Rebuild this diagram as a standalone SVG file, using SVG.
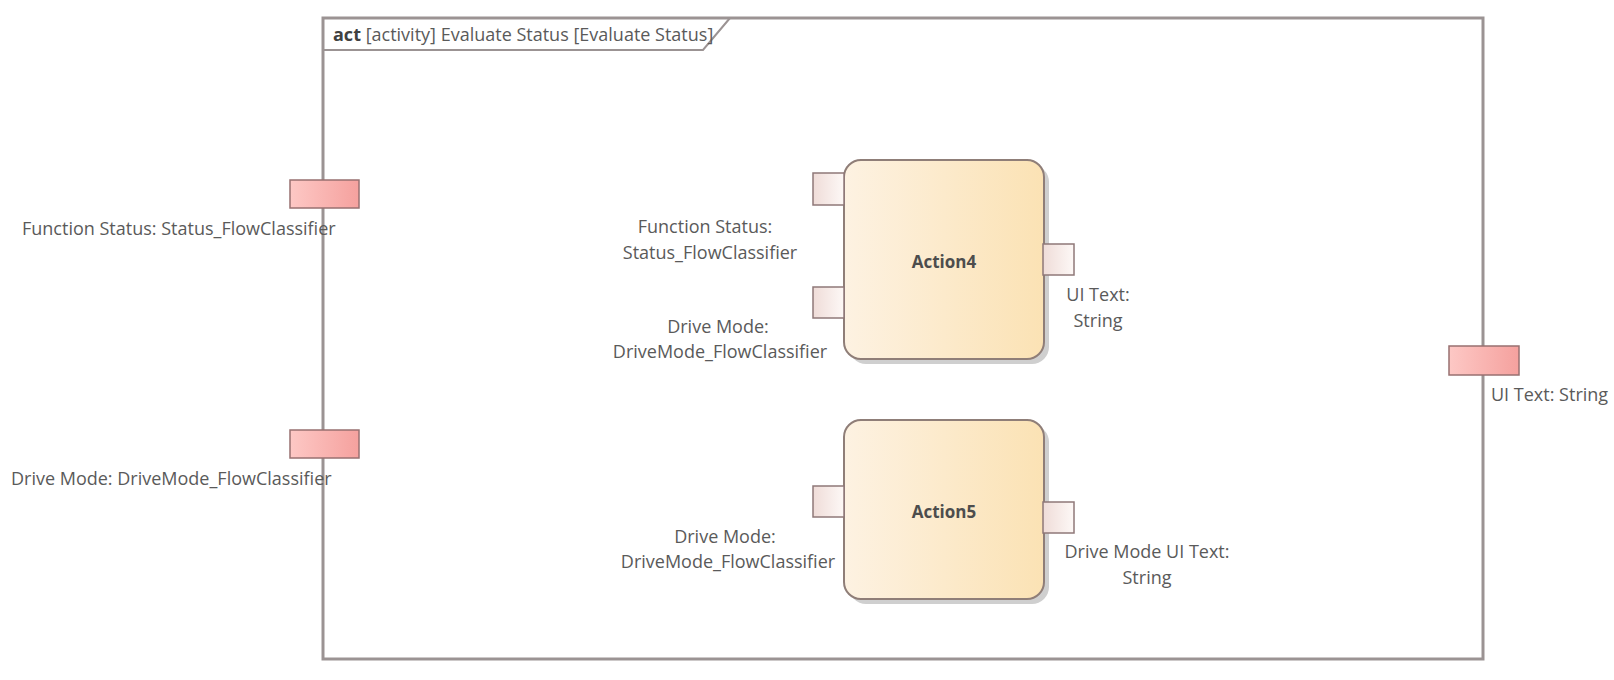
<svg xmlns="http://www.w3.org/2000/svg" width="1614" height="680" viewBox="0 0 1614 680">
<defs>
<linearGradient id="gAct" x1="0" y1="0" x2="1" y2="0">
<stop offset="0" stop-color="#fdf2e2"/>
<stop offset="1" stop-color="#fbe2b4"/>
</linearGradient>
<linearGradient id="gPin" x1="0" y1="0" x2="1" y2="0">
<stop offset="0" stop-color="#efdcd8"/>
<stop offset="1" stop-color="#fdf8f6"/>
</linearGradient>
<linearGradient id="gParam" x1="0" y1="0" x2="1" y2="0">
<stop offset="0" stop-color="#fdc8c5"/>
<stop offset="1" stop-color="#f5a19e"/>
</linearGradient>
<style>
.frame{fill:#ffffff;stroke:#9b9393;stroke-width:3}
.tab{fill:none;stroke:#9b9393;stroke-width:2}
.act{fill:url(#gAct);stroke:#8f7e78;stroke-width:2}
.shadow{fill:#cfcfcf}
.pin{fill:url(#gPin);stroke:#8f7878;stroke-width:1.5}
.param{fill:url(#gParam);stroke:#987070;stroke-width:1.5}
text{font-family:"Open Sans","Noto Sans","Liberation Sans",sans-serif;font-size:18px;fill:#5a5a5a}
.c{text-anchor:middle}
.b{font-weight:bold;fill:#404040}
.name{font-weight:bold;fill:#4d4d4d;font-size:17px}
</style>
</defs>

<g id="frame">
<rect class="frame" x="323" y="18" width="1160" height="641"/>
<polyline class="tab" points="323,50 703,50 730,18"/>
<text x="333" y="41"><tspan class="b">act</tspan> [activity] Evaluate Status [Evaluate Status]</text>
</g>

<g id="param-function-status">
<rect class="param" x="290" y="180" width="69" height="28"/>
<text x="22" y="235">Function Status: Status_FlowClassifier</text>
</g>

<g id="param-drive-mode">
<rect class="param" x="290" y="430" width="69" height="28"/>
<text x="11" y="485">Drive Mode: DriveMode_FlowClassifier</text>
</g>

<g id="param-ui-text">
<rect class="param" x="1449" y="346" width="70" height="29"/>
<text x="1491" y="401">UI Text: String</text>
</g>

<g id="action4">
<rect class="shadow" x="849" y="165" width="200" height="199" rx="17"/>
<rect class="act" x="844" y="160" width="200" height="199" rx="17"/>
<text class="c name" x="944" y="268">Action4</text>
<rect class="pin" x="813" y="173" width="31" height="32"/>
<text class="c" x="705" y="233">Function Status:</text>
<text class="c" x="710" y="259">Status_FlowClassifier</text>
<rect class="pin" x="813" y="287" width="31" height="31"/>
<text class="c" x="718" y="333">Drive Mode:</text>
<text class="c" x="720" y="358">DriveMode_FlowClassifier</text>
<rect class="pin" x="1043" y="244" width="31" height="31"/>
<text class="c" x="1098" y="301">UI Text:</text>
<text class="c" x="1098" y="327">String</text>
</g>

<g id="action5">
<rect class="shadow" x="849" y="425" width="200" height="179" rx="17"/>
<rect class="act" x="844" y="420" width="200" height="179" rx="17"/>
<text class="c name" x="944" y="518">Action5</text>
<rect class="pin" x="813" y="486" width="31" height="31"/>
<text class="c" x="725" y="543">Drive Mode:</text>
<text class="c" x="728" y="568">DriveMode_FlowClassifier</text>
<rect class="pin" x="1043" y="502" width="31" height="31"/>
<text class="c" x="1147" y="558">Drive Mode UI Text:</text>
<text class="c" x="1147" y="584">String</text>
</g>

<g id="connectors"></g>
</svg>
